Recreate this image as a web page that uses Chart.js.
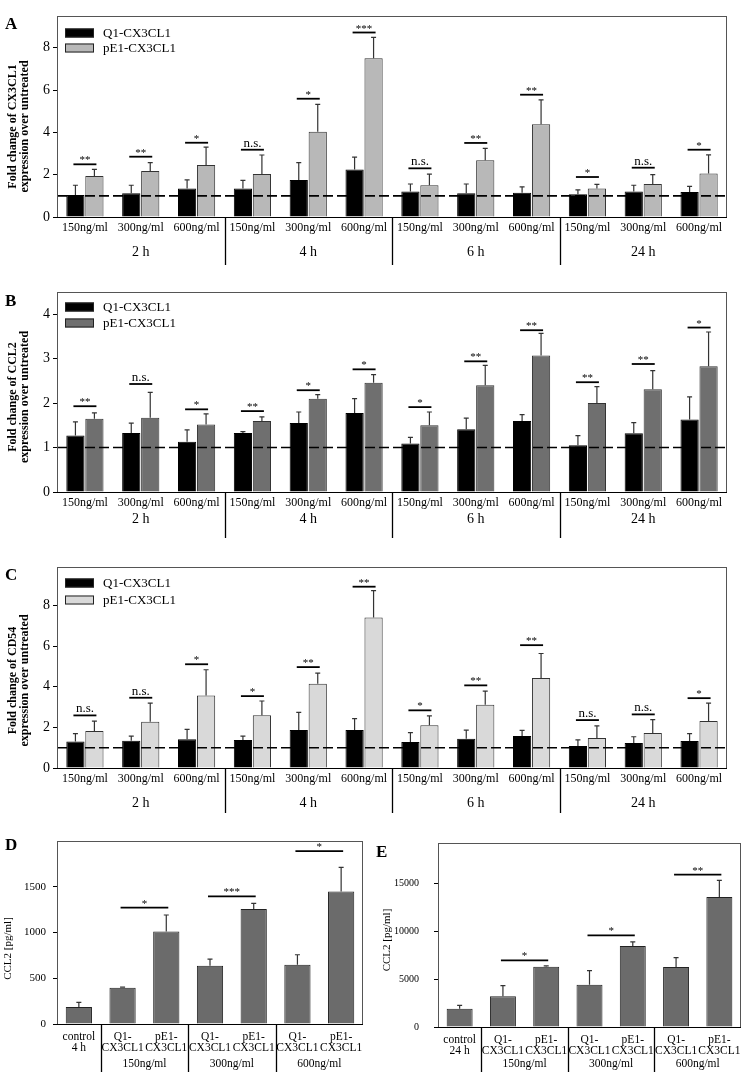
<!DOCTYPE html>
<html>
<head>
<meta charset="utf-8">
<script src="https://cdn.jsdelivr.net/npm/chart.js@4"></script>
<style>
  body { margin: 0; background: #fff; width: 750px; height: 1072px; position: relative; overflow: hidden; }
  .p { position: absolute; }
  .lt { position: absolute; font: bold 17px "Liberation Serif", serif; line-height: 1; }
</style>
</head>
<body>
<div class="p" style="left:0;top:0;width:750px;height:275px"><canvas id="cA"></canvas></div>
<div class="p" style="left:0;top:280px;width:750px;height:270px"><canvas id="cB"></canvas></div>
<div class="p" style="left:0;top:555px;width:750px;height:275px"><canvas id="cC"></canvas></div>
<div class="p" style="left:0;top:820px;width:375px;height:252px"><canvas id="cD"></canvas></div>
<div class="p" style="left:375px;top:822px;width:375px;height:250px"><canvas id="cE"></canvas></div>
<div class="lt" style="left:5px;top:15px">A</div>
<div class="lt" style="left:5px;top:292px">B</div>
<div class="lt" style="left:5px;top:566px">C</div>
<div class="lt" style="left:5px;top:836px">D</div>
<div class="lt" style="left:376px;top:843px">E</div>
<script>
const SERIF = '"Liberation Serif", "Times New Roman", serif';
Chart.defaults.font.family = SERIF;
Chart.defaults.color = '#000';

// shared categories
const doses = ['150ng/ml', '300ng/ml', '600ng/ml', '150ng/ml', '300ng/ml', '600ng/ml',
               '150ng/ml', '300ng/ml', '600ng/ml', '150ng/ml', '300ng/ml', '600ng/ml'];
const times = ['2 h', '4 h', '6 h', '24 h'];
const series = ['Q1-CX3CL1', 'pE1-CX3CL1'];

// A: CX3CL1 fold change
const aTicks = [0, 2, 4, 6, 8];
const aQ1 = [1.04, 1.12, 1.35, 1.35, 1.75, 2.25, 1.20, 1.12, 1.15, 1.07, 1.21, 1.18];
const aQ1Sd = [0.46, 0.38, 0.40, 0.38, 0.82, 0.58, 0.36, 0.44, 0.27, 0.21, 0.29, 0.27];
const aPE1 = [1.94, 2.17, 2.46, 2.03, 4.03, 7.50, 1.50, 2.68, 4.38, 1.35, 1.56, 2.06];
const aPE1Sd = [0.31, 0.40, 0.84, 0.90, 1.29, 0.99, 0.53, 0.56, 1.16, 0.19, 0.44, 0.88];
const aSigY = [2.49, 2.85, 3.51, 3.18, 5.59, 8.72, 2.30, 3.50, 5.78, 1.89, 2.33, 3.18];
const aSig = ['**', '**', '*', 'n.s.', '*', '***', 'n.s.', '**', '**', '*', 'n.s.', '*'];

// B: CCL2 fold change
const bTicks = [0, 1, 2, 3, 4];
const bQ1 = [1.27, 1.33, 1.13, 1.33, 1.55, 1.78, 1.09, 1.41, 1.60, 1.05, 1.32, 1.63];
const bQ1Sd = [0.31, 0.22, 0.27, 0.03, 0.25, 0.32, 0.14, 0.25, 0.14, 0.22, 0.24, 0.51];
const bPE1 = [1.65, 1.67, 1.52, 1.60, 2.10, 2.46, 1.50, 2.40, 3.07, 2.00, 2.31, 2.83];
const bPE1Sd = [0.13, 0.57, 0.24, 0.09, 0.09, 0.18, 0.30, 0.45, 0.50, 0.37, 0.42, 0.77];
const bSigY = [1.93, 2.43, 1.86, 1.82, 2.29, 2.76, 1.91, 2.94, 3.64, 2.47, 2.88, 3.70];
const bSig = ['**', 'n.s.', '*', '**', '*', '*', '*', '**', '**', '**', '**', '*'];

// C: CD54 fold change
const cTicks = [0, 2, 4, 6, 8];
const cQ1 = [1.30, 1.34, 1.41, 1.38, 1.87, 1.87, 1.28, 1.44, 1.57, 1.08, 1.23, 1.33];
const cQ1Sd = [0.39, 0.23, 0.49, 0.19, 0.87, 0.56, 0.46, 0.43, 0.28, 0.31, 0.31, 0.36];
const cPE1 = [1.82, 2.28, 3.57, 2.60, 4.15, 7.41, 2.11, 3.11, 4.43, 1.48, 1.72, 2.31];
const cPE1Sd = [0.49, 0.92, 1.27, 0.70, 0.52, 1.33, 0.46, 0.68, 1.21, 0.59, 0.66, 0.89];
const cSigY = [2.59, 3.46, 5.11, 3.54, 4.97, 8.93, 2.84, 4.07, 6.05, 2.36, 2.64, 3.44];
const cSig = ['n.s.', 'n.s.', '*', '*', '**', '**', '*', '**', '**', 'n.s.', 'n.s.', '*'];

// D / E: CCL2 protein
const dLabels = [['control', '4 h'], ['Q1-', 'CX3CL1'], ['pE1-', 'CX3CL1'], ['Q1-', 'CX3CL1'],
                 ['pE1-', 'CX3CL1'], ['Q1-', 'CX3CL1'], ['pE1-', 'CX3CL1']];
const eLabels = [['control', '24 h'], ['Q1-', 'CX3CL1'], ['pE1-', 'CX3CL1'], ['Q1-', 'CX3CL1'],
                 ['pE1-', 'CX3CL1'], ['Q1-', 'CX3CL1'], ['pE1-', 'CX3CL1']];
const doseGroups = ['150ng/ml', '300ng/ml', '600ng/ml'];
const dTicks = [0, 500, 1000, 1500];
const dVals = [186, 397, 1012, 637, 1256, 648, 1449];
const dSd = [51, 7, 179, 73, 62, 109, 263];
const dSigY = [1271, 1395, 1890];
const dSig = ['*', '***', '*'];
const eTicks = [0, 5000, 10000, 15000];
const eVals = [1914, 3201, 6298, 4419, 8455, 6263, 13570];
const eSd = [348, 1114, 70, 1461, 418, 974, 1740];
const eSigY = [6959, 9569, 15901];
const eSig = ['*', '*', '**'];

function marksPlugin(m) {
  return {
    id: 'marks',
    afterDatasetsDraw(chart) {
      const { ctx, chartArea: a, scales: { y } } = chart;
      ctx.save();
      // error bars (upper only)
      ctx.strokeStyle = '#333';
      ctx.lineWidth = 1.2;
      chart.data.datasets.forEach((ds, di) => {
        chart.getDatasetMeta(di).data.forEach((bar, i) => {
          const yt = y.getPixelForValue(ds.data[i] + ds.sd[i]);
          ctx.beginPath();
          ctx.moveTo(bar.x, bar.y);
          ctx.lineTo(bar.x, yt);
          ctx.moveTo(bar.x - 2.5, yt);
          ctx.lineTo(bar.x + 2.5, yt);
          ctx.stroke();
        });
      });
      if (m.ref != null) {
        const yr = y.getPixelForValue(m.ref);
        ctx.setLineDash([10, 4]);
        ctx.lineWidth = 1.6;
        ctx.strokeStyle = '#000';
        ctx.beginPath();
        ctx.moveTo(a.left, yr);
        ctx.lineTo(a.right, yr);
        ctx.stroke();
        ctx.setLineDash([]);
      }
      // significance bars
      ctx.strokeStyle = '#000';
      ctx.fillStyle = '#000';
      ctx.lineWidth = 1.8;
      ctx.textAlign = 'center';
      ctx.textBaseline = 'alphabetic';
      m.brackets.forEach(b => {
        const x0 = chart.getDatasetMeta(b.d0).data[b.i0].x;
        const x1 = chart.getDatasetMeta(b.d1).data[b.i1].x;
        const yb = y.getPixelForValue(b.v);
        ctx.beginPath();
        ctx.moveTo(x0 - 2, yb);
        ctx.lineTo(x1 + 2, yb);
        ctx.stroke();
        const ns = b.t === 'n.s.';
        ctx.font = (ns ? '13px ' : '11px ') + SERIF;
        ctx.fillText(b.t, (x0 + x1) / 2, yb - (ns ? 3 : 1));
      });
      ctx.restore();
    },
    afterDraw(chart) {
      const { ctx, chartArea: a, scales: { x } } = chart;
      ctx.save();
      ctx.strokeStyle = '#555';
      ctx.lineWidth = 1;
      ctx.strokeRect(a.left + 0.5, a.top + 0.5, a.width - 1, a.height);
      ctx.strokeStyle = '#000';
      ctx.beginPath();
      ctx.moveTo(a.left, a.bottom + 0.5);
      ctx.lineTo(a.right, a.bottom + 0.5);
      ctx.stroke();
      // y axis title, two lines, rotated
      const t = m.yTitle;
      ctx.save();
      ctx.fillStyle = '#000';
      ctx.font = t.font + ' ' + SERIF;
      ctx.textAlign = 'center';
      ctx.textBaseline = 'middle';
      ctx.translate(t.x, (a.top + a.bottom) / 2 + t.dy);
      ctx.rotate(-Math.PI / 2);
      t.lines.forEach((line, i) => ctx.fillText(line, 0, i * t.lh));
      ctx.restore();
      // group labels and separators under the axis
      ctx.fillStyle = '#000';
      ctx.font = m.groupFont + ' ' + SERIF;
      ctx.textAlign = 'center';
      ctx.textBaseline = 'middle';
      m.groups.forEach((g, k) => {
        const s = m.groupStart[k], e = s + m.groupSize - 1;
        const cx = (x.getPixelForTick(s) + x.getPixelForTick(e)) / 2;
        ctx.fillText(g, cx, a.bottom + m.groupDy);
      });
      ctx.lineWidth = 1.3;
      m.groupStart.forEach(k => {
        if (k === 0) return;
        const sx = Math.round((x.getPixelForTick(k - 1) + x.getPixelForTick(k)) / 2) + 0.5;
        ctx.beginPath();
        ctx.moveTo(sx, a.bottom);
        ctx.lineTo(sx, a.bottom + m.sepLen);
        ctx.stroke();
      });
      // legend inside the plot
      if (m.legend) {
        chart.data.datasets.forEach((ds, i) => {
          const ly = a.top + m.legend[i];
          ctx.fillStyle = ds.backgroundColor;
          ctx.fillRect(a.left + 8, ly - 4.5, 29, 9);
          ctx.strokeStyle = '#222';
          ctx.lineWidth = 1;
          ctx.strokeRect(a.left + 8.5, ly - 4, 28, 8);
          ctx.fillStyle = '#000';
          ctx.font = '13px ' + SERIF;
          ctx.textAlign = 'left';
          ctx.fillText(ds.label, a.left + 46, ly + 1);
        });
      }
      ctx.restore();
    }
  };
}

function foldPanel(id, p) {
  return new Chart(document.getElementById(id), {
    type: 'bar',
    data: {
      labels: doses,
      datasets: [
        { label: series[0], data: p.q1, sd: p.q1Sd, backgroundColor: '#000', borderColor: '#000', borderWidth: 1 },
        { label: series[1], data: p.pe1, sd: p.pe1Sd, backgroundColor: p.fill, borderColor: '#333', borderWidth: 1 }
      ]
    },
    options: {
      responsive: true,
      maintainAspectRatio: false,
      animation: false,
      layout: { padding: { top: p.top, right: 23, left: 0, bottom: 0 } },
      datasets: { bar: { categoryPercentage: 0.68, barPercentage: 0.96 } },
      plugins: { legend: { display: false }, tooltip: { enabled: false } },
      scales: {
        x: {
          grid: { display: false, drawTicks: false, tickLength: 0 },
          border: { display: false },
          ticks: { font: { size: 12 }, padding: 4, maxRotation: 0, autoSkip: false },
          afterFit: s => { s.height = p.xH; }
        },
        y: {
          min: 0,
          max: p.max,
          afterBuildTicks: s => { s.ticks = p.ticks.map(v => ({ value: v })); },
          ticks: { font: { size: 14 }, padding: 3 },
          grid: { drawOnChartArea: false, tickLength: 4, color: '#000' },
          border: { color: '#000' },
          afterFit: s => { s.width = 57; }
        }
      }
    },
    plugins: [marksPlugin({
      ref: 1,
      brackets: p.sig.map((t, i) => ({ d0: 0, i0: i, d1: 1, i1: i, v: p.sigY[i], t })),
      groups: times, groupStart: [0, 3, 6, 9], groupSize: 3,
      groupFont: '14px', groupDy: p.groupDy, sepLen: p.sepLen,
      legend: p.legend,
      yTitle: { lines: p.title, font: 'bold 12px', x: 12.5, lh: 12, dy: p.titleDy }
    })]
  });
}

function ccl2Panel(id, p) {
  return new Chart(document.getElementById(id), {
    type: 'bar',
    data: {
      labels: p.labels,
      datasets: [{ label: 'CCL2', data: p.vals, sd: p.sd, backgroundColor: '#6b6b6b', borderColor: '#222', borderWidth: 1 }]
    },
    options: {
      responsive: true,
      maintainAspectRatio: false,
      animation: false,
      layout: { padding: { top: p.top, right: p.right, left: 0, bottom: 0 } },
      datasets: { bar: { categoryPercentage: 1, barPercentage: 0.6 } },
      plugins: { legend: { display: false }, tooltip: { enabled: false } },
      scales: {
        x: {
          grid: { display: false, drawTicks: false, tickLength: 0 },
          border: { display: false },
          ticks: { font: { size: 11.5, lineHeight: 1 }, padding: 7, maxRotation: 0, autoSkip: false },
          afterFit: s => { s.height = p.xH; }
        },
        y: {
          min: 0,
          max: p.max,
          afterBuildTicks: s => { s.ticks = p.ticks.map(v => ({ value: v })); },
          ticks: { font: { size: p.tickSize }, padding: p.tickPad, callback: v => String(v) },
          grid: { drawOnChartArea: false, tickLength: 4, color: '#000' },
          border: { color: '#000' },
          afterFit: s => { s.width = p.yW; }
        }
      }
    },
    plugins: [marksPlugin({
      ref: null,
      brackets: p.sig.map((t, k) => ({ d0: 0, i0: 1 + 2 * k, d1: 0, i1: 2 + 2 * k, v: p.sigY[k], t })),
      groups: doseGroups, groupStart: [1, 3, 5], groupSize: 2,
      groupFont: '11.5px', groupDy: p.groupDy, sepLen: p.xH,
      yTitle: { lines: ['CCL2 [pg/ml]'], font: '11px', x: p.titleX, lh: 12, dy: p.titleDy }
    })]
  });
}

foldPanel('cA', { q1: aQ1, q1Sd: aQ1Sd, pe1: aPE1, pe1Sd: aPE1Sd, sigY: aSigY, sig: aSig, ticks: aTicks,
  fill: '#b8b8b8', max: 9.5, top: 16, xH: 58, groupDy: 35, sepLen: 48, legend: [17, 32], titleDy: 10,
  title: ['Fold change of CX3CL1', 'expression over untreated'] });
foldPanel('cB', { q1: bQ1, q1Sd: bQ1Sd, pe1: bPE1, pe1Sd: bPE1Sd, sigY: bSigY, sig: bSig, ticks: bTicks,
  fill: '#6f6f6f', max: 4.5, top: 12, xH: 58, groupDy: 27, sepLen: 46, legend: [15, 31], titleDy: 5,
  title: ['Fold change of CCL2', 'expression over untreated'] });
foldPanel('cC', { q1: cQ1, q1Sd: cQ1Sd, pe1: cPE1, pe1Sd: cPE1Sd, sigY: cSigY, sig: cSig, ticks: cTicks,
  fill: '#d9d9d9', max: 9.9, top: 12, xH: 62, groupDy: 35, sepLen: 45, legend: [16, 33], titleDy: 13,
  title: ['Fold change of CD54', 'expression over untreated'] });
ccl2Panel('cD', { labels: dLabels, vals: dVals, sd: dSd, sigY: dSigY, sig: dSig, ticks: dTicks,
  max: 2000, top: 21, right: 12, xH: 48, yW: 57, tickSize: 11, tickPad: 7, groupDy: 40,
  titleX: 8, titleDy: 16 });
ccl2Panel('cE', { labels: eLabels, vals: eVals, sd: eSd, sigY: eSigY, sig: eSig, ticks: eTicks,
  max: 19200, top: 21, right: 9, xH: 45, yW: 63, tickSize: 10, tickPad: 15, groupDy: 37,
  titleX: 12, titleDy: 5 });
</script>
</body>
</html>
